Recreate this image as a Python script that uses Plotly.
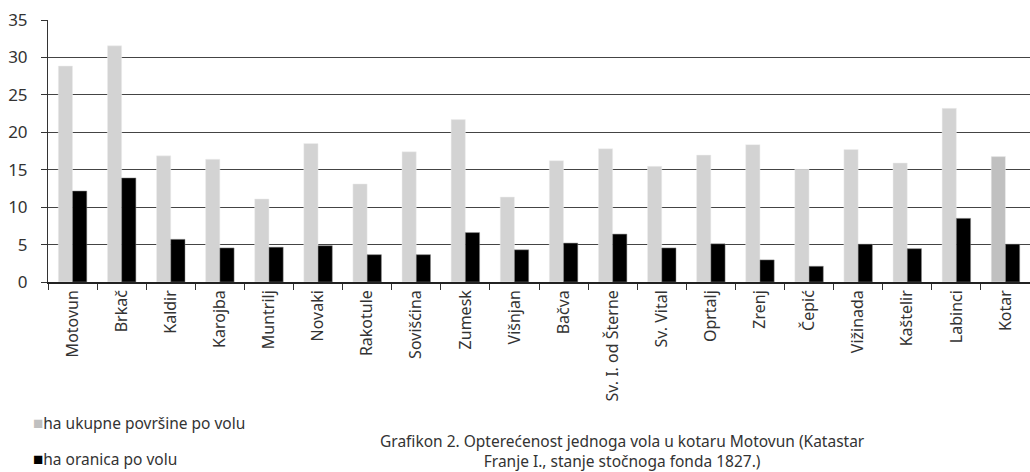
import plotly.graph_objects as go

# katastarske opcine kotara Motovun
places = ["Motovun", "Brkač", "Kaldir", "Karojba", "Muntrilj", "Novaki", "Rakotule",
          "Sovišćina", "Zumesk", "Višnjan", "Bačva", "Sv. I. od Šterne", "Sv. Vital",
          "Oprtalj", "Zrenj", "Čepić", "Vižinada", "Kaštelir", "Labinci", "Kotar"]
ukupno = [28.85, 31.55, 16.85, 16.4, 11.1, 18.5, 13.1, 17.4, 21.7, 11.35,
          16.2, 17.8, 15.45, 16.95, 18.35, 15.05, 17.7, 15.9, 23.2, 16.75]
oranica = [12.15, 13.9, 5.7, 4.55, 4.65, 4.85, 3.65, 3.65, 6.6, 4.3,
           5.2, 6.4, 4.55, 5.1, 2.95, 2.1, 5.05, 4.45, 8.5, 5.05]
y_ticks = [0, 5, 10, 15, 20, 25, 30, 35]

name1 = "ha ukupne površine po volu"
name2 = "ha oranica po volu"

font = "Noto Sans, Open Sans, sans-serif"
txt = "#333333"
grey = ["#d3d3d3"] * (len(places) - 1) + ["#c0c0c0"]

fig = go.Figure()
fig.add_trace(go.Bar(x=places, y=ukupno, name=name1,
                     marker=dict(color=grey, line=dict(color="#eeeeee", width=0.5))))
fig.add_trace(go.Bar(x=places, y=oranica, name=name2,
                     marker=dict(color="#000000", line=dict(color="#888888", width=0.5))))

fig.update_layout(
    width=1030, height=472,
    margin=dict(l=48, r=0, t=20, b=190),
    plot_bgcolor="white", paper_bgcolor="white",
    barmode="group", bargap=0.42, bargroupgap=0,
    font=dict(family=font, size=16, color=txt),
    showlegend=False,
    xaxis=dict(tickangle=-90, tickson="boundaries", ticks="outside", ticklen=6,
               tickcolor=txt, showline=True, linecolor="#222222", linewidth=1.5,
               tickfont=dict(size=16, color=txt), range=[-0.5, 19.5], automargin=False),
    yaxis=dict(range=[0, 35], tickvals=y_ticks, ticks="outside", ticklen=6,
               tickcolor=txt, showline=True, linecolor=txt, linewidth=1,
               showgrid=True, gridcolor="#444444", gridwidth=1, zeroline=False,
               tickfont=dict(size=17, color=txt), ticklabelstandoff=10, automargin=False),
)

# legenda ispod grafa
sq = "<span style='color:{};font-size:17px'>■</span>"
fig.add_annotation(text=sq.format("#c0c0c0") + name1,
                   xref="paper", yref="paper", x=-0.017, y=-0.536,
                   xanchor="left", yanchor="middle", showarrow=False,
                   font=dict(size=15.5, color=txt))
fig.add_annotation(text=sq.format("#000000") + name2,
                   xref="paper", yref="paper", x=-0.017, y=-0.674,
                   xanchor="left", yanchor="middle", showarrow=False,
                   font=dict(size=15.5, color=txt))

fig.add_annotation(
    text="Grafikon 2. Opterećenost jednoga vola u kotaru Motovun (Katastar<br>Franje I., stanje stočnoga fonda 1827.)",
    xref="paper", yref="paper", x=0.5855, y=-0.645, xanchor="center", yanchor="middle",
    showarrow=False, align="center", font=dict(size=15.5, color=txt))

# bez margine stranice, da graf stane u prozor
fig.write_html("out.html", config={"displayModeBar": False},
               post_script="document.body.style.margin='0';")
